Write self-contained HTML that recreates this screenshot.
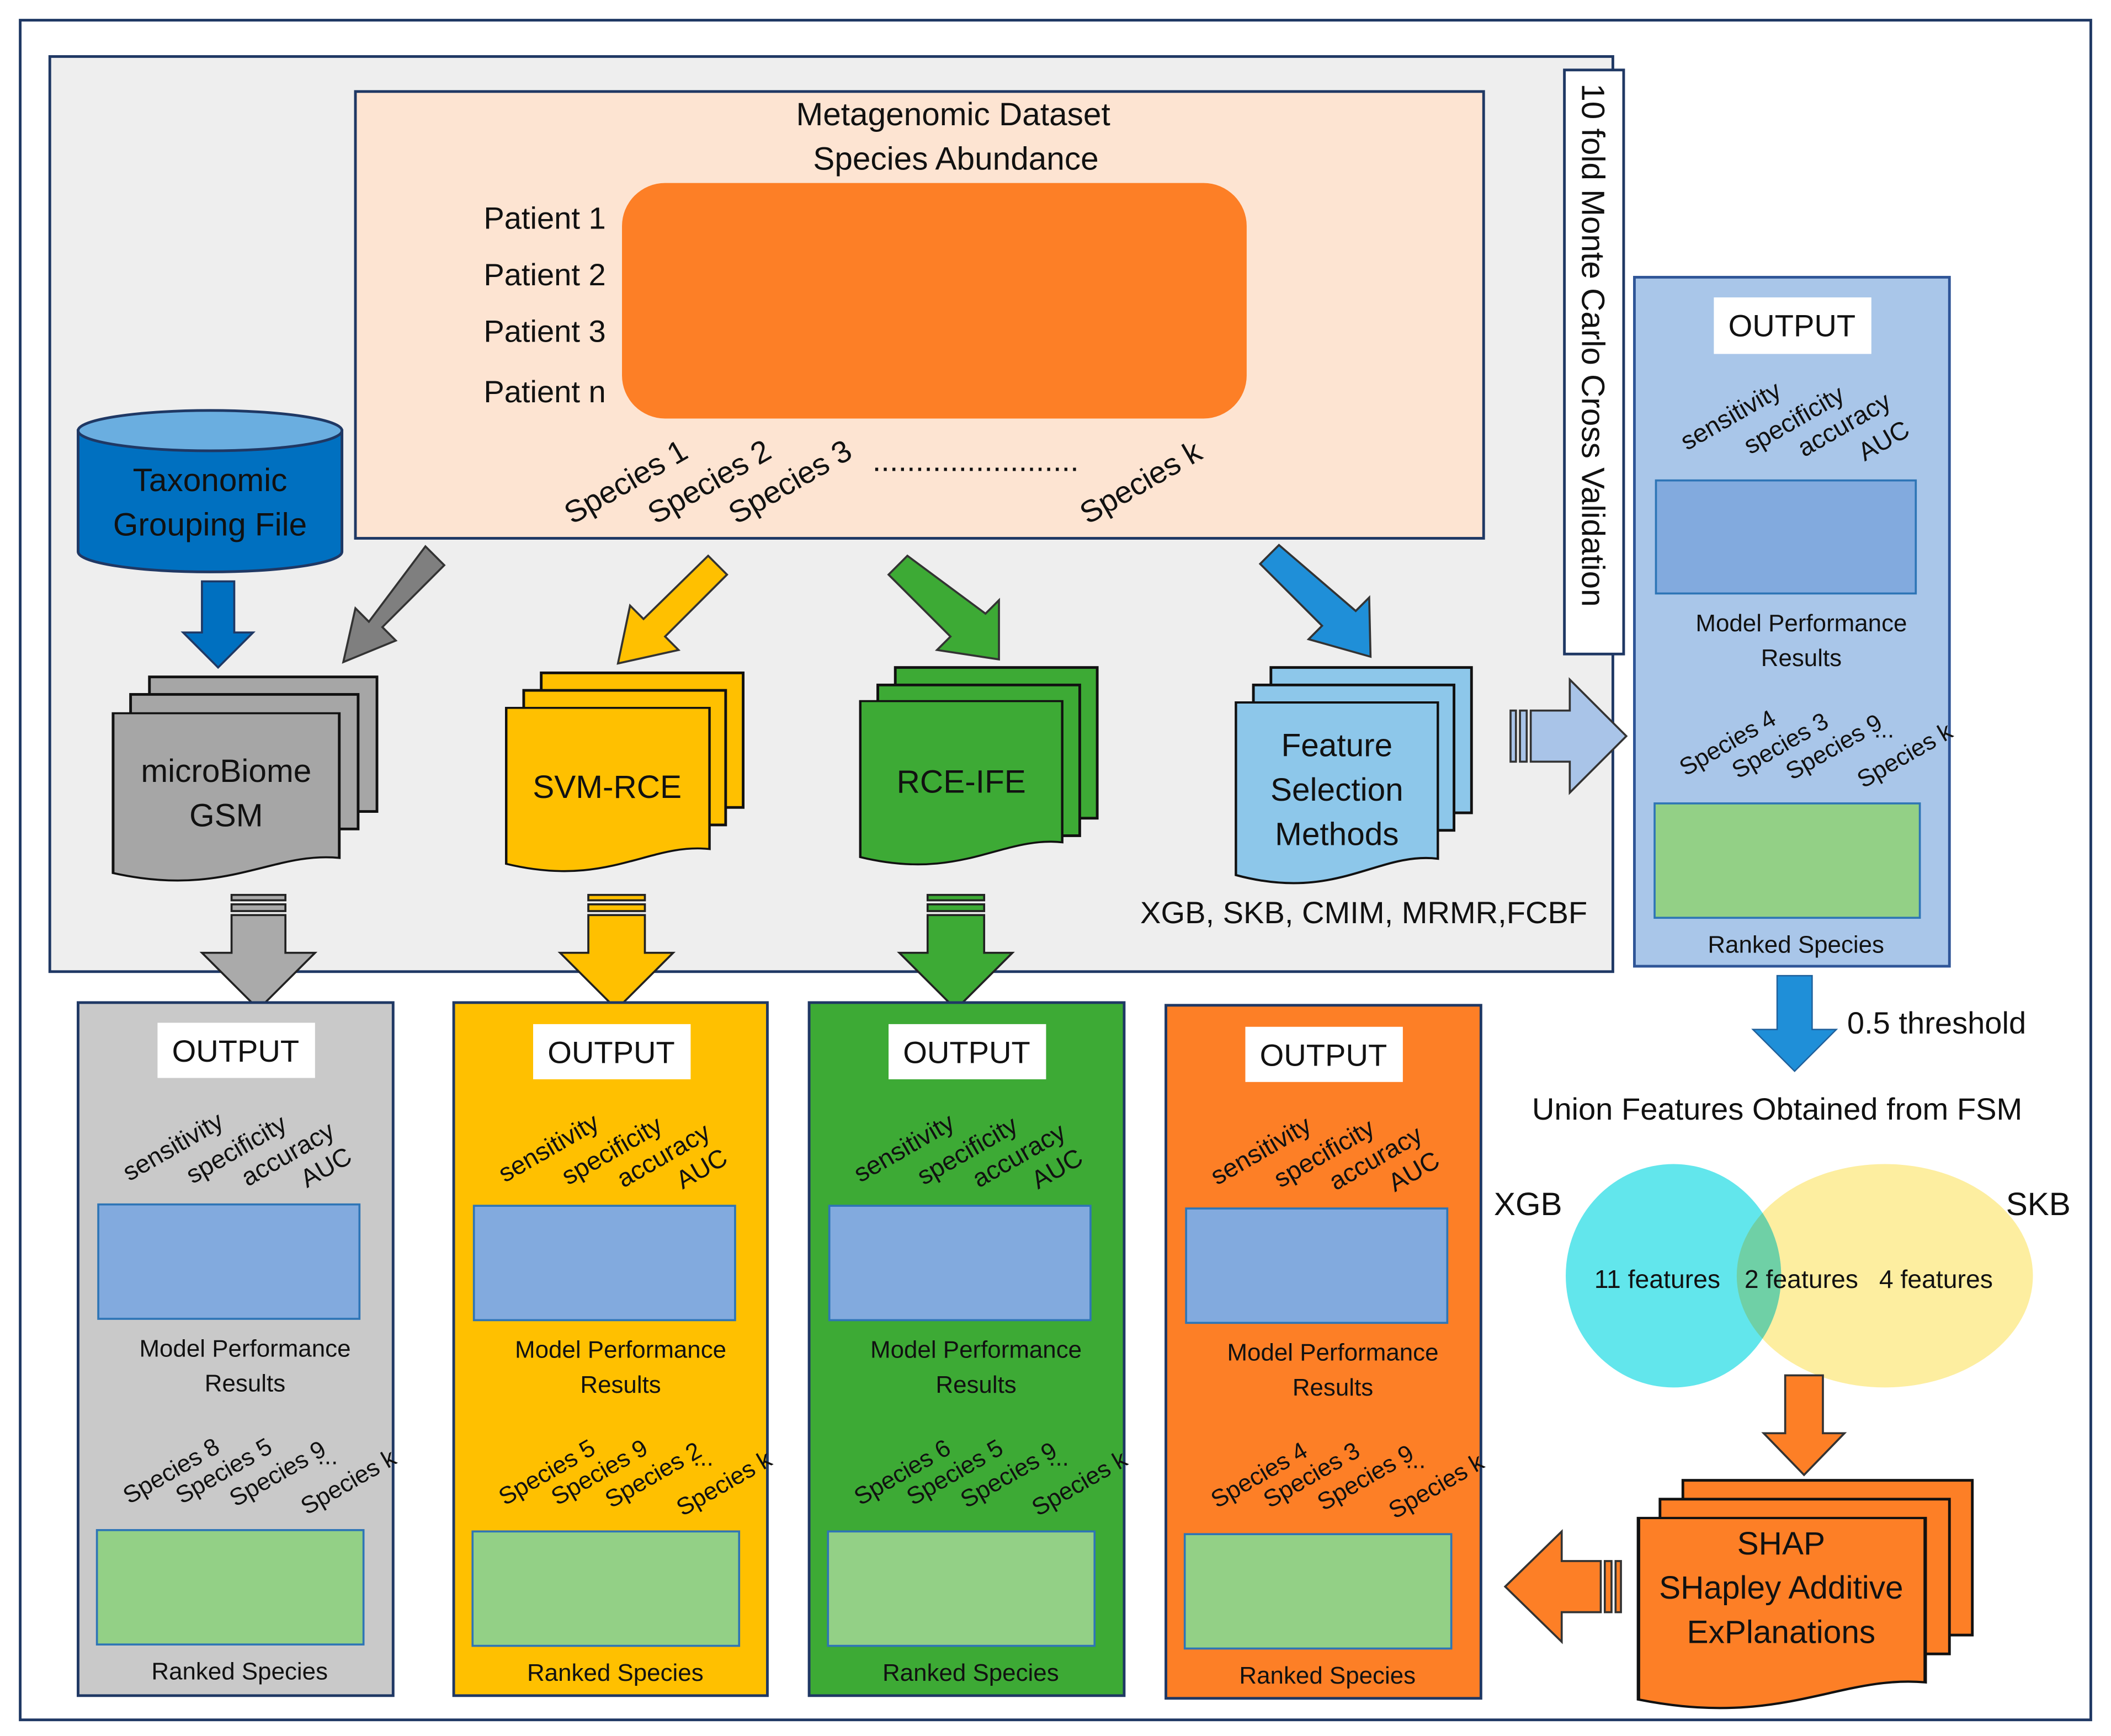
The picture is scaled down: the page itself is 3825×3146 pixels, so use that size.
<!DOCTYPE html>
<html><head><meta charset="utf-8"><style>html,body{margin:0;padding:0;background:#fff}svg{display:block}text{font-family:"Liberation Sans",sans-serif;fill:#111}</style></head>
<body>
<svg width="3825" height="3146" viewBox="0 0 1568 1290" preserveAspectRatio="none" xmlns="http://www.w3.org/2000/svg">
<defs>
<g id="doc"><path d="M0 0H1V0.86C0.7 0.82 0.5 1.1 0 0.95Z"/></g>
</defs>
<rect x="15" y="15" width="1538" height="1263" fill="#fff" stroke="#1f3864" stroke-width="2"/>
<rect x="37" y="42" width="1161" height="680" fill="#eeeeee" stroke="#1f3864" stroke-width="2"/>
<rect x="264" y="68" width="838" height="332" fill="#fde4d2" stroke="#1f3864" stroke-width="2"/>
<text x="708" y="93" font-size="24" text-anchor="middle">Metagenomic Dataset</text>
<text x="710" y="126" font-size="24" text-anchor="middle">Species Abundance</text>
<rect x="462" y="136" width="464" height="175" rx="32" fill="#fd7f26"/>
<g font-size="23" text-anchor="end"><text x="450" y="170">Patient 1</text><text x="450" y="212">Patient 2</text><text x="450" y="254">Patient 3</text><text x="450" y="299">Patient n</text></g>
<g font-size="23">
<text transform="translate(425,390) rotate(-30)">Species 1</text>
<text transform="translate(487,390) rotate(-30)">Species 2</text>
<text transform="translate(547,390) rotate(-30)">Species 3</text>
<text x="648" y="350">........................</text>
<text transform="translate(808,390) rotate(-30)">Species k</text></g>
<rect x="1162" y="52" width="44" height="434" fill="#fff" stroke="#1f3864" stroke-width="2"/>
<text transform="translate(1175,62) rotate(90)" font-size="24">10 fold Monte Carlo Cross Validation</text>
<!-- cylinder -->
<path d="M58 320V410A98 15 0 0 0 254 410V320Z" fill="#0070c0" stroke="#1f3864" stroke-width="2"/>
<ellipse cx="156" cy="320" rx="98" ry="15" fill="#6aaee0" stroke="#1f3864" stroke-width="2"/>
<text x="156" y="365" font-size="24" text-anchor="middle">Taxonomic</text>
<text x="156" y="398" font-size="24" text-anchor="middle">Grouping File</text>
<!-- arrows -->
<path d="M150 432H174V470H188L162 496L136 470H150Z" fill="#0070c0" stroke="#1f3864" stroke-width="1.5"/>
<g stroke="#333" stroke-width="1.5">
<path d="M316 406L330 420L284 466L294 476L255 492L264 452L274 462Z" fill="#7f7f7f"/>
<path d="M526 413L540 427L494 473L504 483L459 493L468 450L478 460Z" fill="#ffc000"/>
<path d="M674 413L660 427L706 473L696 483L742 490L742 446L732 456Z" fill="#3daa35"/>
<path d="M950 405L936 419L982 465L972 475L1018 488L1017 444L1007 454Z" fill="#1f8fd8"/>
</g>
<!-- stacks -->
<g stroke="#111" stroke-width="2">
<g fill="#a6a6a6"><rect x="111" y="503" width="169" height="100"/><rect x="97" y="516" width="169" height="100"/><use href="#doc" transform="translate(84,530) scale(168,125)" stroke-width="0.012"/></g>
<g fill="#ffc000"><rect x="402" y="500" width="150" height="100"/><rect x="389" y="513" width="150" height="100"/><use href="#doc" transform="translate(376,526) scale(151,122)" stroke-width="0.012"/></g>
<g fill="#3daa35"><rect x="665" y="496" width="150" height="112"/><rect x="652" y="509" width="150" height="112"/><use href="#doc" transform="translate(639,521) scale(150,122)" stroke-width="0.012"/></g>
<g fill="#8dc7ea"><rect x="944" y="496" width="149" height="108"/><rect x="931" y="509" width="149" height="108"/><use href="#doc" transform="translate(918,522) scale(150,135)" stroke-width="0.012"/></g>
<g fill="#fd7f26"><rect x="1250" y="1100" width="215" height="115"/><rect x="1233" y="1114" width="215" height="115"/><use href="#doc" transform="translate(1217,1128) scale(213,142)" stroke-width="0.012"/></g>
</g>
<g font-size="24" text-anchor="middle">
<text x="168" y="581">microBiome</text><text x="168" y="614">GSM</text>
<text x="451" y="593">SVM-RCE</text>
<text x="714" y="589">RCE-IFE</text>
<text x="993" y="562">Feature</text><text x="993" y="595">Selection</text><text x="993" y="628">Methods</text>
<text x="1323" y="1155">SHAP</text><text x="1323" y="1188">SHapley Additive</text><text x="1323" y="1221">ExPlanations</text>
</g>
<text x="1013" y="686" font-size="23" text-anchor="middle">XGB, SKB, CMIM, MRMR,FCBF</text>
<!-- right block arrow -->
<g stroke="#333" stroke-width="1.5" fill="#a9c4e8">
<rect x="1122" y="528" width="4" height="38"/><rect x="1129" y="528" width="5" height="38"/>
<path d="M1137 528H1166V505L1208 547L1166 589V566H1137Z"/>
</g>
<!-- striped down arrows -->
<g stroke="#222" stroke-width="1.5">
<g fill="#aaa"><rect x="172" y="665" width="40" height="4"/><rect x="172" y="672" width="40" height="5"/><path d="M172 680H212V708H234L192 750L150 708H172Z"/></g>
<g fill="#ffc000"><rect x="437" y="665" width="42" height="4"/><rect x="437" y="672" width="42" height="5"/><path d="M437 680H479V708H500L458 750L416 708H437Z"/></g>
<g fill="#3daa35"><rect x="689" y="665" width="42" height="4"/><rect x="689" y="672" width="42" height="5"/><path d="M689 680H731V708H752L710 750L668 708H689Z"/></g>
</g>
<!-- right output panel -->
<rect x="1214" y="206" width="234" height="512" fill="#a9c6e9" stroke="#2f5597" stroke-width="2"/>
<rect x="1273" y="221" width="117" height="42" fill="#fff"/>
<text x="1331" y="250" font-size="23" text-anchor="middle">OUTPUT</text>
<g font-size="19"><text transform="translate(1253,335) rotate(-30)">sensitivity</text><text transform="translate(1300,338) rotate(-30)">specificity</text><text transform="translate(1340,340) rotate(-30)">accuracy</text><text transform="translate(1385,343) rotate(-30)">AUC</text></g>
<rect x="1230" y="357" width="193" height="84" fill="#82aade" stroke="#2e75b6" stroke-width="1.5"/>
<text x="1338" y="469" font-size="18" text-anchor="middle">Model Performance</text><text x="1338" y="495" font-size="18" text-anchor="middle">Results</text>
<g font-size="18"><text transform="translate(1252,577) rotate(-30)">Species 4</text><text transform="translate(1291,579) rotate(-30)">Species 3</text><text transform="translate(1331,580) rotate(-30)">Species 9</text><text x="1392" y="548">...</text><text transform="translate(1384,586) rotate(-30)">Species k</text></g>
<rect x="1229" y="597" width="197" height="85" fill="#93d086" stroke="#2e75b6" stroke-width="1.5"/>
<text x="1334" y="708" font-size="18" text-anchor="middle">Ranked Species</text>
<!-- bottom panels -->
<g id="p1">
<rect x="58" y="745" width="234" height="515" fill="#c9c9c9" stroke="#1f3864" stroke-width="2"/>
</g>
<rect x="337" y="745" width="233" height="515" fill="#ffc000" stroke="#1f3864" stroke-width="2"/>
<rect x="601" y="745" width="234" height="515" fill="#3daa35" stroke="#1f3864" stroke-width="2"/>
<rect x="866" y="747" width="234" height="515" fill="#fd7f26" stroke="#1f3864" stroke-width="2"/>
<g id="inner">
<rect x="117" y="760" width="117" height="41" fill="#fff"/>
<text x="175" y="789" font-size="23" text-anchor="middle">OUTPUT</text>
<g font-size="19"><text transform="translate(96,878) rotate(-30)">sensitivity</text><text transform="translate(143,880) rotate(-30)">specificity</text><text transform="translate(184,882) rotate(-30)">accuracy</text><text transform="translate(228,883) rotate(-30)">AUC</text></g>
<rect x="73" y="895" width="194" height="85" fill="#82aade" stroke="#2e75b6" stroke-width="1.5"/>
<text x="182" y="1008" font-size="18" text-anchor="middle">Model Performance</text><text x="182" y="1034" font-size="18" text-anchor="middle">Results</text>
<text x="178" y="1248" font-size="18" text-anchor="middle">Ranked Species</text>
<rect x="72" y="1137" width="198" height="85" fill="#93d086" stroke="#2e75b6" stroke-width="1.5"/>
</g>
<use href="#inner" transform="translate(279,1)"/>
<use href="#inner" transform="translate(543,1)"/>
<use href="#inner" transform="translate(808,3)"/>
<g font-size="18">
<g><text transform="translate(96,1118) rotate(-30)">Species 8</text><text transform="translate(135,1118) rotate(-30)">Species 5</text><text transform="translate(175,1120) rotate(-30)">Species 9</text><text x="236" y="1088">...</text><text transform="translate(228,1126) rotate(-30)">Species k</text></g>
<g transform="translate(279,1)"><text transform="translate(96,1118) rotate(-30)">Species 5</text><text transform="translate(135,1118) rotate(-30)">Species 9</text><text transform="translate(175,1120) rotate(-30)">Species 2</text><text x="236" y="1088">...</text><text transform="translate(228,1126) rotate(-30)">Species k</text></g>
<g transform="translate(543,1)"><text transform="translate(96,1118) rotate(-30)">Species 6</text><text transform="translate(135,1118) rotate(-30)">Species 5</text><text transform="translate(175,1120) rotate(-30)">Species 9</text><text x="236" y="1088">...</text><text transform="translate(228,1126) rotate(-30)">Species k</text></g>
<g transform="translate(808,3)"><text transform="translate(96,1118) rotate(-30)">Species 4</text><text transform="translate(135,1118) rotate(-30)">Species 3</text><text transform="translate(175,1120) rotate(-30)">Species 9</text><text x="236" y="1088">...</text><text transform="translate(228,1126) rotate(-30)">Species k</text></g>
</g>
<!-- threshold arrow -->
<path d="M1320 725H1346V765H1364L1333 796L1302 765H1320Z" fill="#1f8fd8" stroke="#1f5f9a" stroke-width="1"/>
<text x="1372" y="768" font-size="23">0.5 threshold</text>
<text x="1320" y="832" font-size="23" text-anchor="middle">Union Features Obtained from FSM</text>
<!-- venn -->
<ellipse cx="1400" cy="948" rx="110" ry="83" fill="#fdeea0"/>
<ellipse cx="1243" cy="948" rx="80" ry="83" fill="#62e6ec"/>
<clipPath id="cl"><ellipse cx="1400" cy="948" rx="110" ry="83"/></clipPath>
<ellipse cx="1243" cy="948" rx="80" ry="83" fill="#6fd0a6" clip-path="url(#cl)"/>
<text x="1135" y="903" font-size="24" text-anchor="middle">XGB</text>
<text x="1514" y="903" font-size="24" text-anchor="middle">SKB</text>
<g font-size="19" text-anchor="middle"><text x="1231" y="957">11 features</text><text x="1338" y="957">2 features</text><text x="1438" y="957">4 features</text></g>
<path d="M1326 1022H1354V1065H1370L1340 1096L1310 1065H1326Z" fill="#fd7f26" stroke="#333" stroke-width="1.5"/>
<g stroke="#333" stroke-width="1.5" fill="#fd7f26">
<rect x="1200" y="1160" width="4" height="38"/><rect x="1192" y="1160" width="5" height="38"/>
<path d="M1189 1160H1160V1138L1118 1179L1160 1220V1198H1189Z"/>
</g>
</svg>
</body></html>
